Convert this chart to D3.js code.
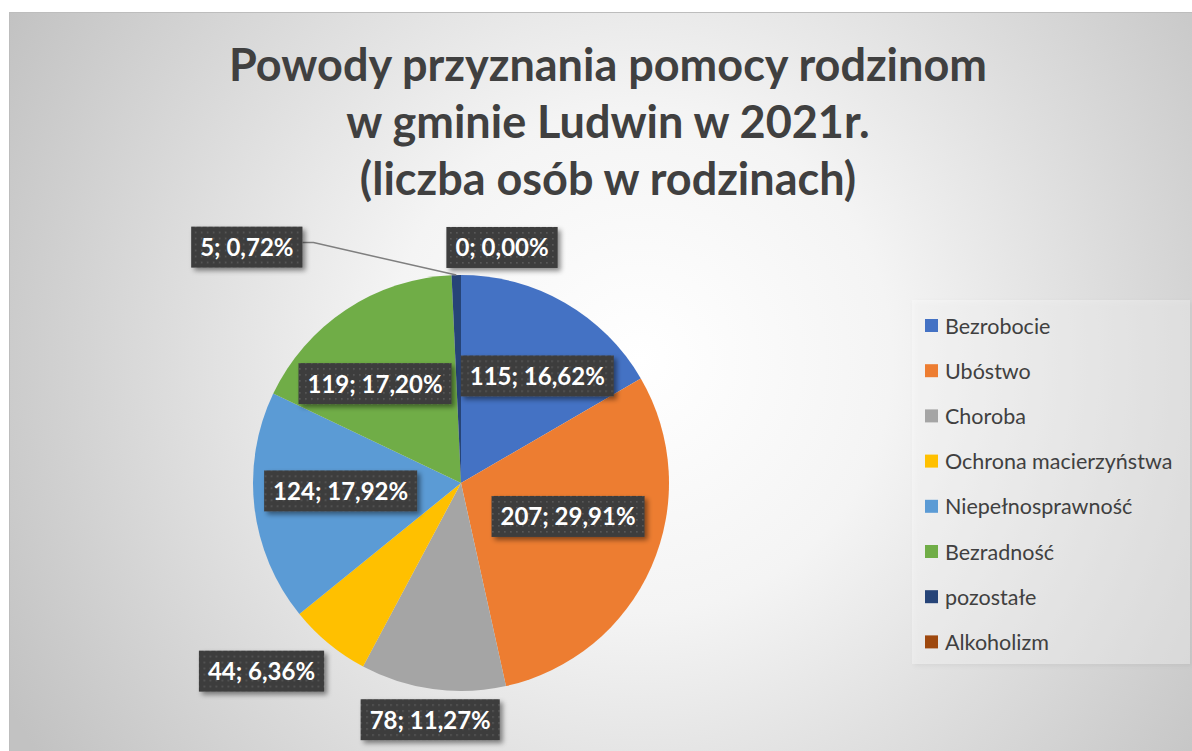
<!DOCTYPE html>
<html>
<head>
<meta charset="utf-8">
<script src="https://cdn.jsdelivr.net/npm/d3@7"></script>
<style>
  body { margin: 0; background: #fff; }
  svg { display: block; }
</style>
</head>
<body>
<div id="chart"></div>
<script>
const categories = ["Bezrobocie", "Ubóstwo", "Choroba", "Ochrona macierzyństwa", "Niepełnosprawność", "Bezradność", "pozostałe", "Alkoholizm"];
const values = [115, 207, 78, 44, 124, 119, 5, 0];
const colors = ["#4472C4", "#ED7D31", "#A5A5A5", "#FFC000", "#5B9BD5", "#70AD47", "#264478", "#9E480E"];
const titleLines = ["Powody przyznania pomocy rodzinom", "w gminie Ludwin w 2021r.", "(liczba osób w rodzinach)"];

// label placement per slice: radius factor and angle (deg, clockwise from top)
const labelPlace = [
  [0.63, 35.6], [0.54, 107.6], [1.15, 187.4], [1.32, 226.6],
  [0.58, 266], [0.63, 319], [1.53, 317.7], [1.147, 9.9]
];

const width = 1192, height = 751;
const svg = d3.select("#chart").append("svg")
  .attr("width", width).attr("height", height);

const defs = svg.append("defs");
const grad = defs.append("radialGradient").attr("id", "bg")
  .attr("gradientUnits", "userSpaceOnUse")
  .attr("cx", 640).attr("cy", 360).attr("r", 720);
grad.append("stop").attr("offset", "0%").attr("stop-color", "#ffffff");
grad.append("stop").attr("offset", "35%").attr("stop-color", "#f4f4f4");
grad.append("stop").attr("offset", "100%").attr("stop-color", "#c2c2c2");

const pat = defs.append("pattern").attr("id", "dots")
  .attr("width", 6).attr("height", 6).attr("patternUnits", "userSpaceOnUse");
pat.append("rect").attr("width", 6).attr("height", 6).attr("fill", "#3d3d3d");
pat.append("rect").attr("x", 2).attr("y", 2).attr("width", 1.6).attr("height", 1.6).attr("fill", "#5a5a5a");

const shadow = defs.append("filter").attr("id", "shadow")
  .attr("x", "-20%").attr("y", "-30%").attr("width", "140%").attr("height", "170%");
shadow.append("feDropShadow").attr("dx", 3).attr("dy", 3).attr("stdDeviation", 2.5)
  .attr("flood-color", "#000").attr("flood-opacity", 0.45);

const legShadow = defs.append("filter").attr("id", "legShadow")
  .attr("x", "-5%").attr("y", "-5%").attr("width", "112%").attr("height", "112%");
legShadow.append("feDropShadow").attr("dx", 2).attr("dy", 2).attr("stdDeviation", 2)
  .attr("flood-color", "#000").attr("flood-opacity", 0.18);

// chart area
svg.append("rect")
  .attr("x", 9.5).attr("y", 12.5).attr("width", width).attr("height", height)
  .attr("fill", "url(#bg)").attr("stroke", "#bdbdbd");

// title
svg.append("text")
  .attr("text-anchor", "middle")
  .attr("font-family", "Lato, 'Open Sans', sans-serif")
  .attr("font-weight", "bold")
  .attr("font-size", 45)
  .attr("fill", "#404040")
  .selectAll("tspan").data(titleLines).join("tspan")
  .attr("x", 608)
  .attr("y", (d, i) => 81 + i * 57)
  .text(d => d);

// pie
const cx = 461, cy = 483, R = 208;
const total = d3.sum(values);
const pie = d3.pie().sort(null).value(d => d)(values);
const arc = d3.arc().innerRadius(0).outerRadius(R);

const g = svg.append("g").attr("transform", `translate(${cx},${cy})`);
g.selectAll("path").data(pie).join("path")
  .attr("d", arc)
  .attr("fill", (d, i) => colors[i]);

const fmt = v => (v / total * 100).toFixed(2).replace(".", ",");
const leaderG = g.append("g");

// labels
const labels = g.selectAll("g.lab").data(pie).join("g").attr("class", "lab")
  .attr("transform", (d, i) => {
    const p = labelPlace[i];
    const a = p[1] * Math.PI / 180;
    return `translate(${Math.sin(a) * R * p[0]},${-Math.cos(a) * R * p[0]})`;
  });
const boxes = [];
labels.each(function (d, i) {
  const sel = d3.select(this);
  const t = sel.append("text")
    .attr("text-anchor", "middle")
    .attr("dy", "0.35em")
    .attr("font-family", "Lato, 'Open Sans', sans-serif")
    .attr("font-weight", "bold")
    .attr("font-size", 24)
    .attr("fill", "#ffffff")
    .text(`${values[i]}; ${fmt(values[i])}%`);
  const bb = t.node().getBBox();
  boxes[i] = { half: bb.width / 2 + 9 };
  sel.insert("rect", "text")
    .attr("x", bb.x - 9).attr("y", -21)
    .attr("width", bb.width + 18).attr("height", 41)
    .attr("fill", "url(#dots)")
    .attr("filter", "url(#shadow)");
});

// leader line for the small slice
const small = pie[6];
const midA = (small.startAngle + small.endAngle) / 2;
const edge = [Math.sin(midA) * R, -Math.cos(midA) * R];
const lp = labelPlace[6];
const la = lp[1] * Math.PI / 180;
const lx = Math.sin(la) * R * lp[0] + boxes[6].half, ly = -Math.cos(la) * R * lp[0] - 5;
leaderG.append("path")
  .attr("d", `M${lx},${ly} L${lx + 11},${ly} L${edge[0]},${edge[1]}`)
  .attr("fill", "none").attr("stroke", "#7f7f7f").attr("stroke-width", 1.5);

// legend
const lg = svg.append("g");
lg.append("rect")
  .attr("x", 912).attr("y", 300).attr("width", 278).attr("height", 364)
  .attr("fill", "#ffffff").attr("fill-opacity", 0.3)
  .attr("filter", "url(#legShadow)");
const items = lg.selectAll("g.item").data(categories).join("g").attr("class", "item")
  .attr("transform", (d, i) => `translate(925,${326 + i * 45.2})`);
items.append("rect").attr("x", 0).attr("y", -7).attr("width", 13).attr("height", 13)
  .attr("fill", (d, i) => colors[i]);
items.append("text")
  .attr("x", 20).attr("dy", "0.35em")
  .attr("font-family", "Lato, 'Open Sans', sans-serif")
  .attr("font-size", 21.5)
  .attr("fill", "#404040")
  .text(d => d);
</script>
</body>
</html>
